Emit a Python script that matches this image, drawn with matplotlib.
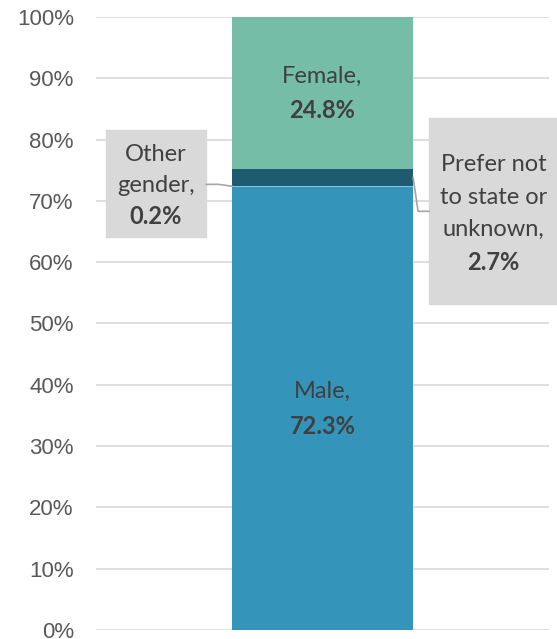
import matplotlib.pyplot as plt

# segment order from bottom to top
categories = ["Male", "Other gender", "Prefer not to state or unknown", "Female"]
shares = [72.3, 0.2, 2.7, 24.8]
colors = ["#3494BA", "#8CC4DC", "#1F5B70", "#75BDA7"]
label_texts = ["Male,", "Other\ngender,", "Prefer not\nto state or\nunknown,", "Female,"]
yticks = list(range(0, 101, 10))
ytick_labels = [f"{v}%" for v in yticks]

TEXT_COLOR = "#404040"
TICK_COLOR = "#595959"
BOX_COLOR = "#D9D9D9"
LEADER_COLOR = "#A6A6A6"
LABEL_FONT = ["Lato", "DejaVu Sans"]
LABEL_SIZE = 17

fig = plt.figure(figsize=(5.57, 6.39), dpi=100)
ax = fig.add_axes([0.1724, 0.0141, 0.8132, 0.9593])

bar_width = 0.4
bottoms = []
running = 0
for share, color in zip(shares, colors):
    ax.bar(0, share, width=bar_width, bottom=running, color=color, zorder=3)
    bottoms.append(running)
    running += share

ax.set_xlim(-0.5, 0.5)
ax.set_ylim(0, 100)
ax.set_yticks(yticks)
ax.set_yticklabels(ytick_labels, fontsize=16, color=TICK_COLOR, family="Liberation Sans")
ax.tick_params(axis="y", length=0, pad=16)
ax.set_xticks([])
for spine in ax.spines.values():
    spine.set_visible(False)
ax.grid(axis="y", color="#D9D9D9", linewidth=1.2, zorder=0)

# labels inside the bar
for idx in (0, 3):
    yc = bottoms[idx] + shares[idx] / 2
    ax.text(0, yc + 2.7, label_texts[idx], ha="center", va="center",
            fontsize=LABEL_SIZE, color=TEXT_COLOR, family=LABEL_FONT)
    ax.text(0, yc - 2.9, f"{shares[idx]}%", ha="center", va="center",
            fontsize=LABEL_SIZE, color=TEXT_COLOR, family=LABEL_FONT, fontweight="bold")

# callout boxes for the small segments
def callout(x0, x1, y0, y1, text, value, leader, step, shift):
    ax.add_patch(plt.Rectangle((x0, y0), x1 - x0, y1 - y0, color=BOX_COLOR,
                               clip_on=False, zorder=4))
    xs, ys = zip(*leader)
    ax.plot(xs, ys, color=LEADER_COLOR, linewidth=1.2, clip_on=False, zorder=4)
    lines = text.split("\n") + [value]
    yc = (y0 + y1) / 2 + shift
    top = yc + step * (len(lines) - 1) / 2
    for i, line in enumerate(lines):
        weight = "bold" if i == len(lines) - 1 else "normal"
        ax.text((x0 + x1) / 2, top - i * step, line, ha="center", va="center",
                fontsize=LABEL_SIZE, color=TEXT_COLOR, family=LABEL_FONT,
                fontweight=weight, zorder=5, clip_on=False)

callout(-0.478, -0.257, 64.1, 81.6, label_texts[1], f"{shares[1]}%",
        [(-0.257, 72.7), (-0.23, 72.7), (-bar_width / 2, bottoms[1] + 0.1)],
        step=5.05, shift=-0.3)

pref_mid = bottoms[2] + shares[2] / 2
callout(0.235, 0.52, 53.2, 83.5, label_texts[2], f"{shares[2]}%",
        [(bar_width / 2, pref_mid), (0.211, 68.3), (0.235, 68.3)],
        step=5.3, shift=-0.4)

fig.savefig("out.png", dpi=100)
